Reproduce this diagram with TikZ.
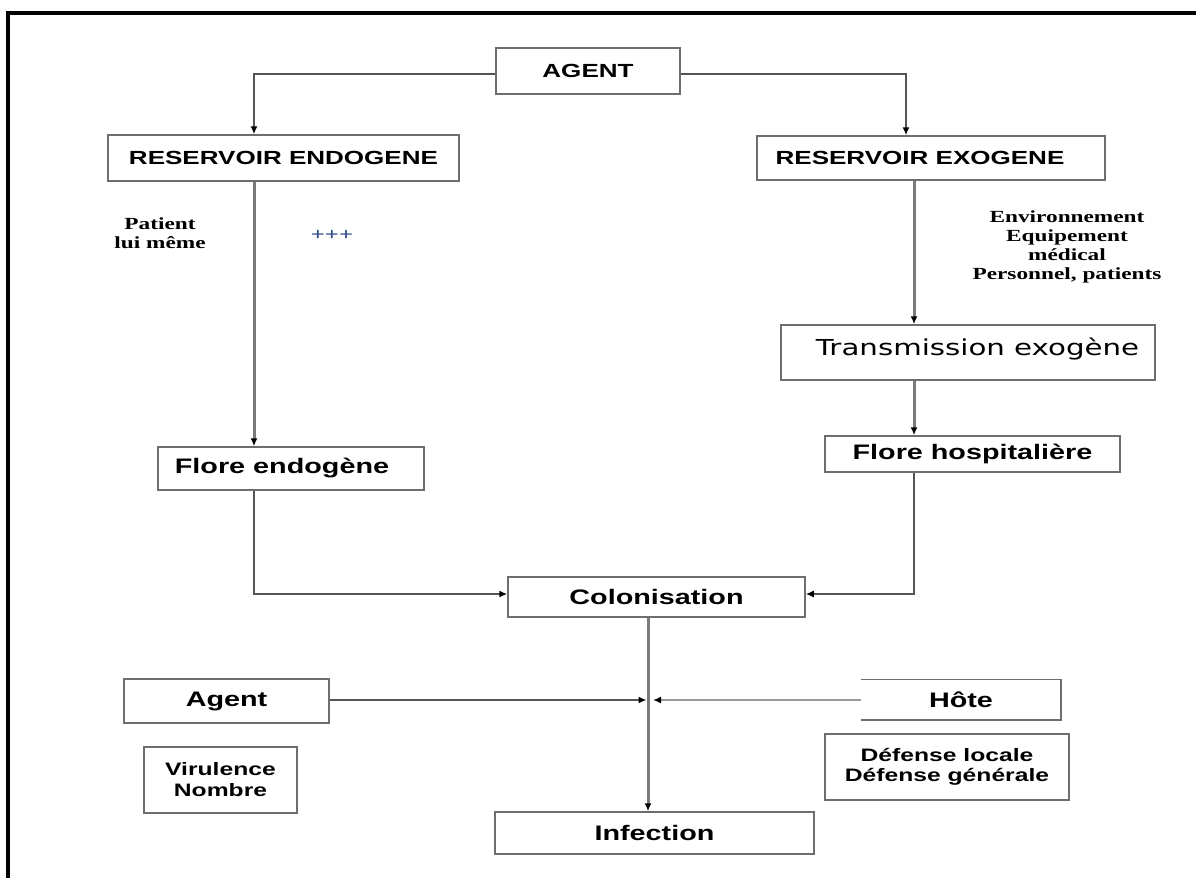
\documentclass[tikz,border=0pt]{standalone}
\usepackage{fontspec}
\usepackage{xcolor}
\usepackage{tikz}
\usetikzlibrary{arrows.meta}
\newfontfamily\boxfont[FakeStretch=1.37]{Liberation Sans}
\newfontfamily\notefont[FakeStretch=1.37]{Liberation Serif}
\newfontfamily\transfont[FakeStretch=1.33]{DejaVu Sans}
\definecolor{C6E6E6E}{HTML}{6E6E6E}
\definecolor{C555555}{HTML}{555555}
\definecolor{C7A7A7A}{HTML}{7A7A7A}
\definecolor{C9A9A9A}{HTML}{9A9A9A}
\definecolor{C2B4A8C}{HTML}{2B4A8C}

\begin{document}
\begin{tikzpicture}[inner sep=0pt,
  box/.style={draw=C6E6E6E, line width=1.5pt, align=center, font=\boxfont\bfseries\fontsize{21}{24}\selectfont},
  elbow/.style={draw=C555555, line width=1.5pt},
  vline/.style={draw=C7A7A7A, line width=3pt},
  hline/.style={draw=C9A9A9A, line width=1.8pt},
  tip/.style={-{Latex[length=8pt,width=7pt,color=black]}},
  note/.style={align=center, font=\notefont\bfseries\fontsize{17}{19.5}\selectfont}]
\useasboundingbox (0pt,0pt) rectangle (1196pt,-878pt);
\path [draw, line width=4pt] (1196pt,-12.5pt) -- (8pt,-12.5pt) -- (8pt,-878pt);
\node (nagent) [box, minimum width=184pt, minimum height=46pt, at={(588pt,-71pt)}, font=\boxfont\bfseries\fontsize{19}{22}\selectfont] {AGENT};
\node (nrendo) [box, minimum width=351pt, minimum height=46pt, at={(283.5pt,-158pt)}, font=\boxfont\bfseries\fontsize{19}{22}\selectfont] {RESERVOIR ENDOGENE};
\node (nrexo) [box, minimum width=348pt, minimum height=44pt, at={(931pt,-158pt)}, font=\boxfont\bfseries\fontsize{19}{22}\selectfont] {RESERVOIR EXOGENE\hspace*{22pt}};
\node (ntrans) [box, minimum width=374pt, minimum height=55pt, at={(968pt,-352.5pt)}, text depth=11.7pt, font=\transfont\fontsize{22}{26}\selectfont] {\hspace*{19pt}Transmission exogène};
\node (nfhosp) [box, minimum width=295pt, minimum height=36pt, at={(972.5pt,-454pt)}] {Flore hospitalière};
\node (nfendo) [box, minimum width=266pt, minimum height=43pt, at={(291pt,-468.5pt)}] {Flore endogène\hspace*{18pt}};
\node (ncolo) [box, minimum width=297pt, minimum height=40pt, at={(656.5pt,-597pt)}] {Colonisation};
\node (nagent2) [box, minimum width=205pt, minimum height=44pt, at={(226.5pt,-701pt)}] {Agent};
\node (nhote) [box, draw=none, minimum width=198pt, minimum height=39pt, at={(961pt,-699.5pt)}] {Hôte};
\node (nviru) [box, minimum width=153pt, minimum height=66pt, at={(220.5pt,-780pt)}, font=\boxfont\bfseries\fontsize{18}{21}\selectfont] {Virulence\\Nombre};
\node (ndef) [box, minimum width=244pt, minimum height=66pt, at={(947pt,-767pt)}, font=\boxfont\bfseries\fontsize{18}{20}\selectfont] {Défense locale\\Défense générale};
\node (ninf) [box, minimum width=319pt, minimum height=42pt, at={(654.5pt,-833pt)}] {Infection};
\node (npat) [note, at={(160pt,-233pt)}] {Patient\\lui même};
\node (nplus) [at={(332pt,-235pt)}, text=C2B4A8C, font=\notefont\bfseries\fontsize{18}{20}\selectfont] {+++};
\node (nenv) [note, at={(1067pt,-247pt)}, font=\notefont\bfseries\fontsize{17}{19}\selectfont] {Environnement\\Equipement\\médical\\Personnel, patients};
\coordinate (njoin) at (648pt,-700pt);
\path [draw=C6E6E6E, line width=1.5pt] (nhote.north west) -- (nhote.north east) -- (nhote.south east) -- (nhote.south west);
\path [elbow, tip] ([yshift=-3pt]nagent.west) -| ([xshift=-29.5pt]nrendo.north);
\path [elbow, tip] ([yshift=-3pt]nagent.east) -| ([xshift=-25pt]nrexo.north);
\path [vline, tip] ([xshift=-29.5pt]nrendo.south) -- ([xshift=-37pt]nfendo.north);
\path [vline, tip] ([xshift=-17pt]nrexo.south) -- ([xshift=-54pt]ntrans.north);
\path [vline, tip] ([xshift=-54pt]ntrans.south) -- ([xshift=-58.5pt]nfhosp.north);
\path [elbow, tip] ([xshift=-37pt]nfendo.south) |- ([yshift=3pt]ncolo.west);
\path [elbow, tip] ([xshift=-58.5pt]nfhosp.south) |- ([yshift=3pt]ncolo.east);
\path [vline, tip] ([xshift=-8.5pt]ncolo.south) -- ([xshift=-6.5pt]ninf.north);
\path [elbow, tip] (nagent2.east |- njoin) -- ([xshift=-1.5pt]njoin);
\path [hline, tip] (nhote.west |- njoin) -- ([xshift=5pt]njoin);
\end{tikzpicture}
\end{document}
